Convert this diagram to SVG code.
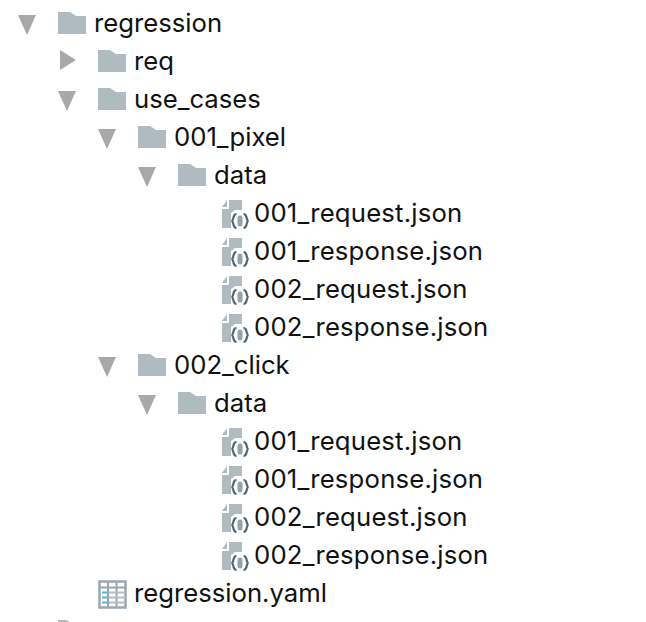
<svg xmlns="http://www.w3.org/2000/svg" width="646" height="622" viewBox="0 0 646 622">
<style>
text{font-family:"Inter","Liberation Sans",sans-serif;font-size:25.700px;fill:#111}
.j{letter-spacing:.2px}
.t{fill:#a8a8a8}
.f{fill:#afbac1}
</style>
<defs>
<path id="folder" class="f" d="M0 0H12L18 4H28V22H0Z"/>
<path id="down" class="t" d="M0 0H18L9 20Z"/>
<path id="right" class="t" d="M0 0L16 10L0 20Z"/>
<g id="json">
<path class="f" d="M5 0V7H0Z"/>
<path class="f" d="M7 0H20V10H13L9 13V28H0V9H7Z"/>
<path d="M14.500 14C10 14 12.500 20.500 9.500 21C12.500 21.500 10 28 14.500 28M21.500 14C26 14 23.500 20.500 26.500 21C23.500 21.500 26 28 21.500 28" fill="none" stroke="#54646e" stroke-width="2.200"/>
<rect x="15.500" y="15.500" width="5" height="11" rx="2.500" fill="#93a3ad"/>
</g>
</defs>
<g id="connectors"></g>
<g id="n-regression"><use href="#down" x="18" y="15"/><use href="#folder" x="58" y="12"/><text x="94" y="32">regression</text></g>
<g id="n-req"><use href="#right" x="60" y="50"/><use href="#folder" x="98" y="50"/><text x="134" y="70">req</text></g>
<g id="n-use_cases"><use href="#down" x="58" y="91"/><use href="#folder" x="98" y="88"/><text x="134" y="108">use_cases</text></g>
<g id="n-001_pixel"><use href="#down" x="98" y="129"/><use href="#folder" x="138" y="126"/><text x="174" y="146">001_pixel</text></g>
<g id="n-data1"><use href="#down" x="138" y="167"/><use href="#folder" x="178" y="164"/><text x="214" y="184">data</text></g>
<g id="n-a1"><use href="#json" x="222" y="200"/><text class="j" x="254" y="222">001_request.json</text></g>
<g id="n-a2"><use href="#json" x="222" y="238"/><text class="j" x="254" y="260">001_response.json</text></g>
<g id="n-a3"><use href="#json" x="222" y="276"/><text class="j" x="254" y="298">002_request.json</text></g>
<g id="n-a4"><use href="#json" x="222" y="314"/><text class="j" x="254" y="336">002_response.json</text></g>
<g id="n-002_click"><use href="#down" x="98" y="357"/><use href="#folder" x="138" y="354"/><text x="174" y="374">002_click</text></g>
<g id="n-data2"><use href="#down" x="138" y="395"/><use href="#folder" x="178" y="392"/><text x="214" y="412">data</text></g>
<g id="n-b1"><use href="#json" x="222" y="428"/><text class="j" x="254" y="450">001_request.json</text></g>
<g id="n-b2"><use href="#json" x="222" y="466"/><text class="j" x="254" y="488">001_response.json</text></g>
<g id="n-b3"><use href="#json" x="222" y="504"/><text class="j" x="254" y="526">002_request.json</text></g>
<g id="n-b4"><use href="#json" x="222" y="542"/><text class="j" x="254" y="564">002_response.json</text></g>
<g id="n-yaml">
<rect x="99.500" y="581.500" width="26" height="26" fill="#fff" stroke="#9aa7af" stroke-width="2.500"/>
<path d="M100 587.500H125M108 582V607M116.500 582V607" fill="none" stroke="#9aa7af" stroke-width="2"/>
<path d="M109 592.500H124M109 597.500H124M109 602.500H124" fill="none" stroke="#b5bcc2" stroke-width="2"/>
<path d="M102 592.500H107M102 597.500H107M102 602.500H107" fill="none" stroke="#4fb3dc" stroke-width="2"/>
<text x="134" y="602">regression.yaml</text></g>
<path d="M58 622V620H66L70 622Z" fill="#afbac1"/>
</svg>
